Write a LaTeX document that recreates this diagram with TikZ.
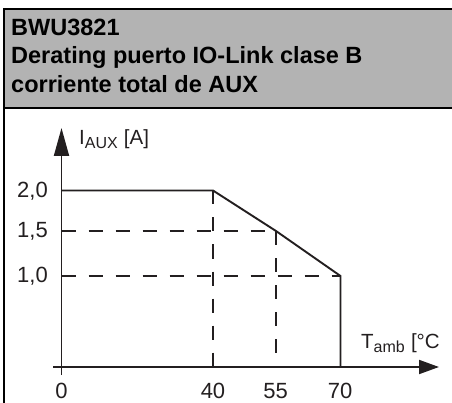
\documentclass[tikz,border=0pt]{standalone}
\usepackage{fontspec}
\setmainfont{Liberation Sans}
\usetikzlibrary{arrows.meta}
\definecolor{ink}{HTML}{231F20}
\definecolor{headgrey}{HTML}{B3B3B3}
\tikzset{
  frameline/.style={line width=2pt, draw=black},
  axisline/.style={line width=1.9pt, draw=ink},
  curveline/.style={line width=1.9pt, draw=ink, line join=miter},
  dashline/.style={line width=1.8pt, draw=ink, dash pattern=on 14pt off 13pt},
  titletext/.style={anchor=base west, inner sep=0pt, text=black, font=\bfseries\fontsize{23.5}{26}\selectfont},
  ticklabel/.style={inner sep=0pt, text=ink, font=\fontsize{22}{24}\selectfont},
  axislabel/.style={inner sep=0pt, anchor=base west, text=ink, font=\fontsize{20.5}{24}\selectfont}
}
\begin{document}
\begin{tikzpicture}[x=1pt,y=-1pt]
\useasboundingbox (0,0) rectangle (452,403);
% header
\fill[headgrey] (4,9) rectangle (460,108.5);
\coordinate (ftl) at (4,9);
\coordinate (ftr) at (460,9);
\coordinate (fbl) at (4,410);
\coordinate (hl) at (4,108.5);
\coordinate (hr) at (460,108.5);
\draw[frameline] (ftr) -- (ftl) -- (fbl);
\draw[frameline] (hl) -- (hr);
\node[titletext] (t1) at (11,35.5) {BWU3821};
\node[titletext] (t2) at (11,64) {Derating puerto IO-Link clase B};
\node[titletext] (t3) at (11,92.5) {corriente total de AUX};
% points
\coordinate (ybot) at (61.5,375);
\coordinate (ytop) at (61.5,128);
\coordinate (xl) at (53,367);
\coordinate (xr) at (439,367);
\coordinate (p0) at (61.5,190.5);
\coordinate (p1) at (213,190.5);
\coordinate (p2) at (276,231);
\coordinate (p3) at (340.5,276);
\coordinate (p4) at (340.5,367);
\coordinate (a15) at (61.5,231);
\coordinate (a10) at (61.5,276);
\coordinate (b40) at (213,367);
\coordinate (b55) at (276,367);
% dashed guides
\draw[dashline] (a15) -- (p2);
\draw[dashline] (a10) -- (p3);
\draw[dashline] (p1) -- (b40);
\draw[dashline] (p2) -- (b55);
% axes
\draw[axisline, -{Triangle[length=28pt,width=15pt]}] (ybot) -- (ytop);
\draw[axisline, -{Triangle[length=20pt,width=14pt]}] (xl) -- (xr);
% curve
\draw[curveline] (p0) -- (p1) -- (p2) -- (p3) -- (p4);
% labels
\node[ticklabel, anchor=east] (l20) at (48,191) {2,0};
\node[ticklabel, anchor=east] (l15) at (48,231) {1,5};
\node[ticklabel, anchor=east] (l10) at (48,276) {1,0};
\node[ticklabel, anchor=base] (l0) at (61.5,398.5) {0};
\node[ticklabel, anchor=base] (l40) at (213,398.5) {40};
\node[ticklabel, anchor=base] (l55) at (275.5,398.5) {55};
\node[ticklabel, anchor=base] (l70) at (340,398.5) {70};
\node[axislabel] (ylab) at (79,145) {I\textsubscript{\fontsize{16}{18}\selectfont AUX} [A]};
\node[axislabel] (xlab) at (361,348) {T\textsubscript{\fontsize{16}{18}\selectfont amb} [°C};
\end{tikzpicture}
\end{document}
